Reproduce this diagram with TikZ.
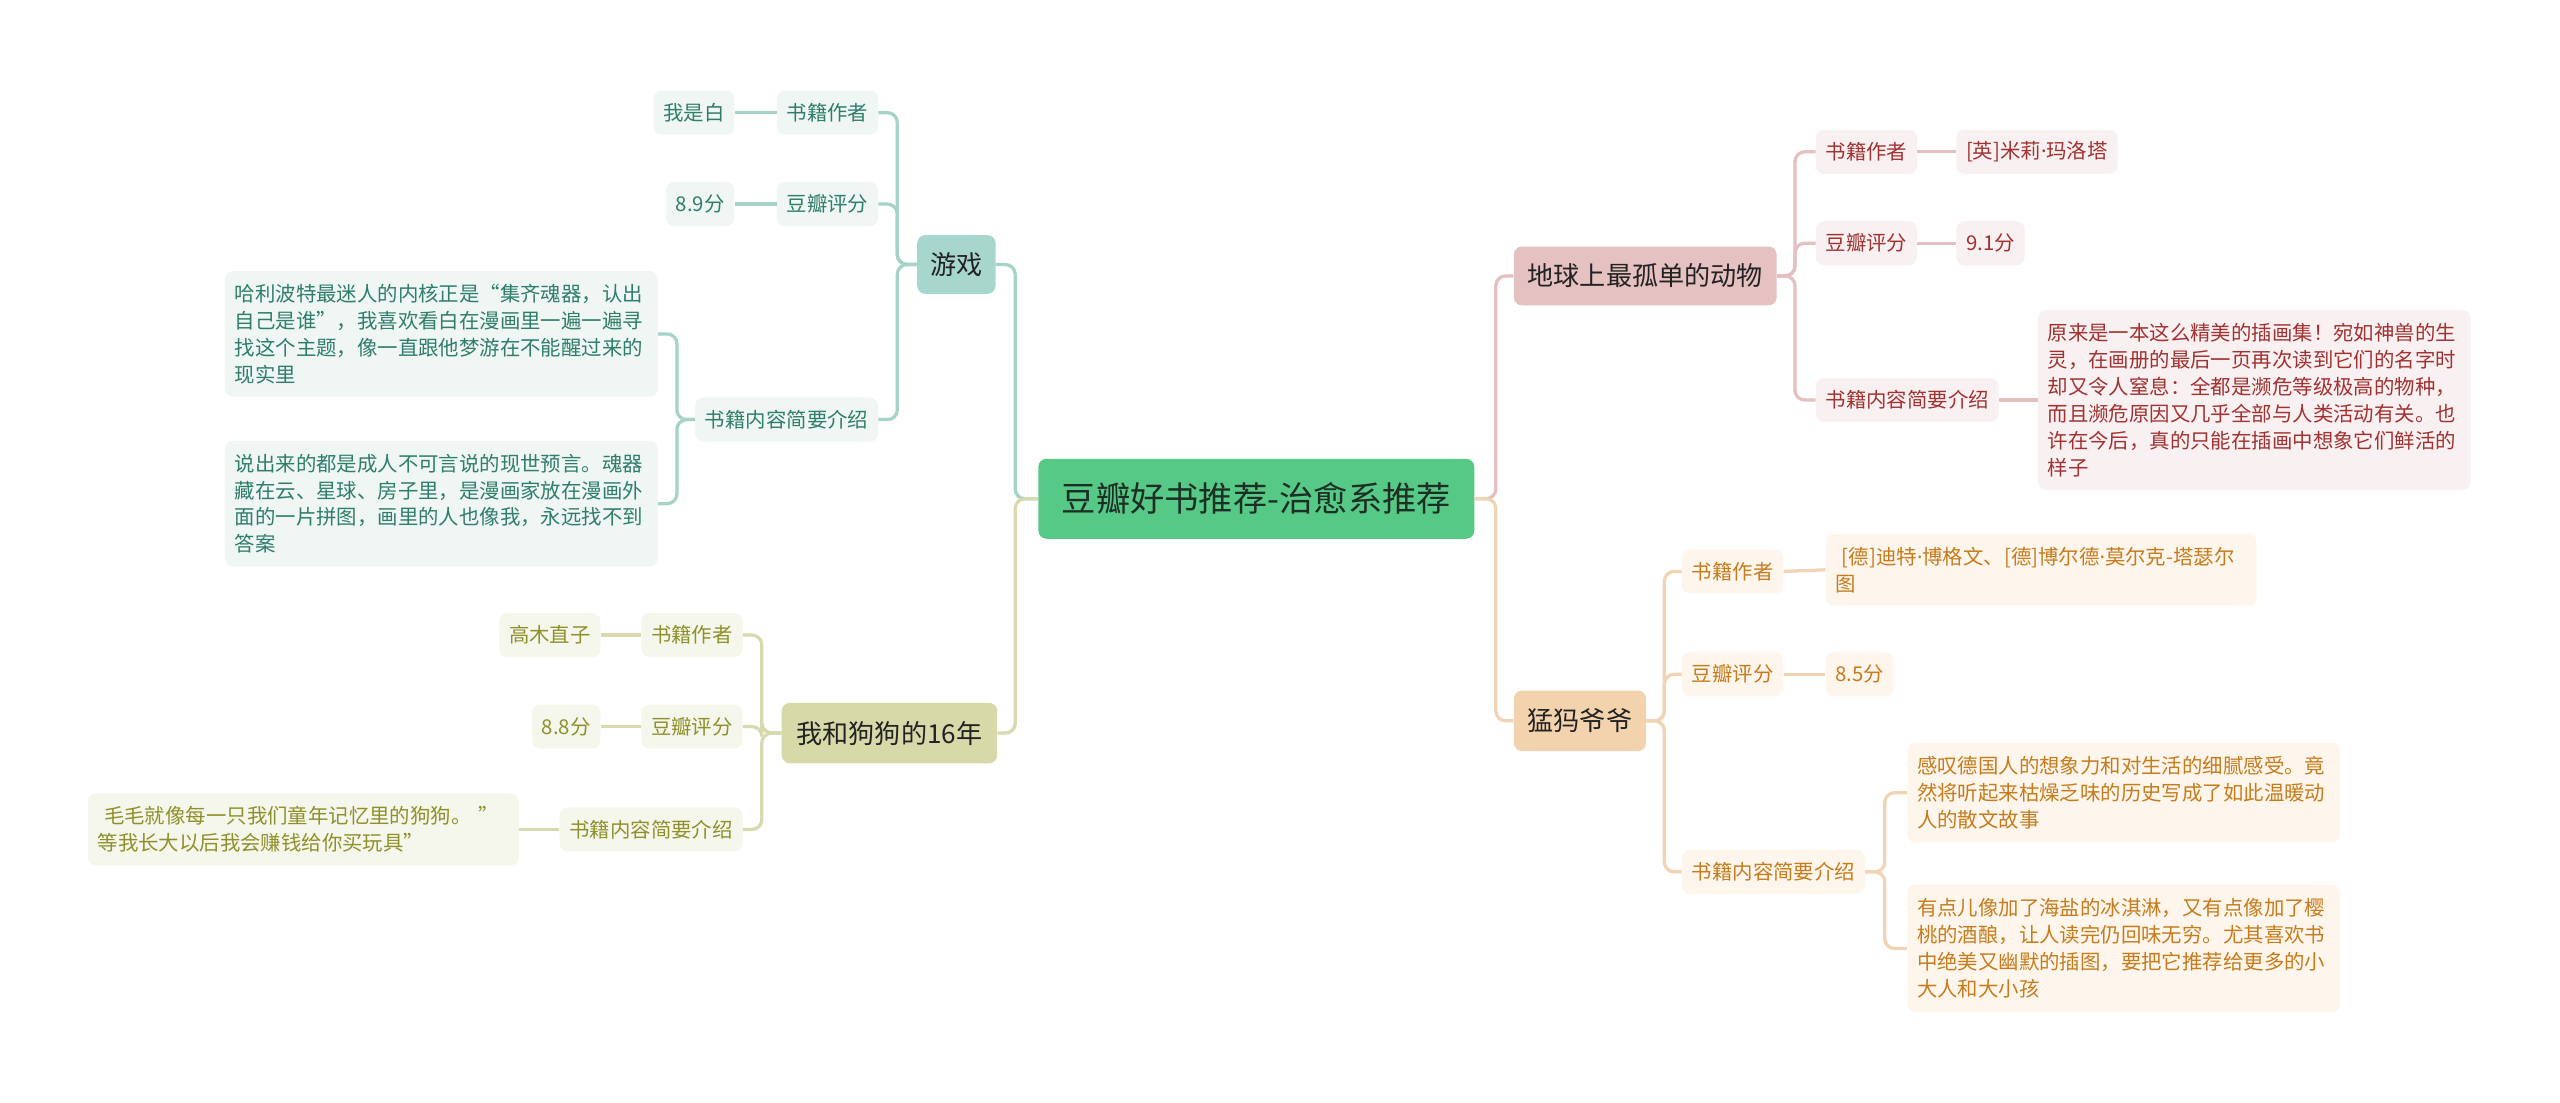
\documentclass[tikz,border=0pt]{standalone}
\usepackage{fontspec}
\setmainfont{Noto Sans CJK SC}
\newfontfamily\latinf{Noto Sans}
\newcommand{\mdot}{{\latinf ·}}
\definecolor{rootc}{HTML}{56C986}
\definecolor{roottx}{HTML}{1D2E24}
\definecolor{lvtx}{HTML}{222222}
% teal
\definecolor{tA}{HTML}{A7D6CC}
\definecolor{tL}{HTML}{EFF6F4}
\definecolor{tT}{HTML}{2F7E6C}
\definecolor{tC}{HTML}{A6D3C8}
% olive
\definecolor{oA}{HTML}{D7D9A9}
\definecolor{oL}{HTML}{F6F7EC}
\definecolor{oT}{HTML}{8E912B}
\definecolor{oC}{HTML}{D8DAAE}
% pink
\definecolor{pA}{HTML}{E6C1C1}
\definecolor{pL}{HTML}{F9F1F1}
\definecolor{pT}{HTML}{A23131}
\definecolor{pC}{HTML}{E4C0C0}
% orange
\definecolor{yA}{HTML}{F2D3AE}
\definecolor{yL}{HTML}{FEF6EC}
\definecolor{yT}{HTML}{C67C1C}
\definecolor{yC}{HTML}{F1D4B4}
\tikzset{
  rootnode/.style={rounded corners=5pt, fill=rootc, text=roottx, minimum width=267pt, minimum height=49pt, font=\fontsize{21}{25}\selectfont},
  lvone/.style={rounded corners=5pt, minimum height=37pt, inner xsep=8pt, text=lvtx, font=\fontsize{16}{19}\selectfont},
  leaf/.style={rounded corners=5pt, minimum height=27pt, inner xsep=6pt, font=\fontsize{12.5}{16}\selectfont},
  tbox/.style={rounded corners=5pt, inner xsep=6pt, inner ysep=4pt, align=left, font=\fontsize{12.5}{16.5}\selectfont},
  conn/.style={line width=2pt, rounded corners=6pt},
}
\begin{document}
\begin{tikzpicture}[x=1pt,y=-1pt]
\path[fill=white] (0,0) rectangle (1568,675);
\useasboundingbox (0,0) rectangle (1568,675);

% root
\node[rootnode] (root) at (769.5,305.5) {豆瓣好书推荐-治愈系推荐};

% ===== 游戏 (teal) =====
\node[lvone, fill=tA, minimum width=47pt, minimum height=36pt, anchor=east] (g) at (610,162) {游戏};
\node[leaf, fill=tL, text=tT, anchor=east] (gauth) at (538,69) {书籍作者};
\node[leaf, fill=tL, text=tT, anchor=east] (gauthv) at (450,69) {我是白};
\node[leaf, fill=tL, text=tT, anchor=east] (grate) at (538,125) {豆瓣评分};
\node[leaf, fill=tL, text=tT, anchor=east] (gratev) at (450,125) {8.9分};
\node[leaf, fill=tL, text=tT, anchor=east] (gdesc) at (538,257) {书籍内容简要介绍};
\node[tbox, fill=tL, text=tT, text width=253pt, minimum height=77pt, anchor=east] (gt1) at (403,204.5)
 {哈利波特最迷人的内核正是“集齐魂器，认出\\自己是谁”，我喜欢看白在漫画里一遍一遍寻\\找这个主题，像一直跟他梦游在不能醒过来的\\现实里};
\node[tbox, fill=tL, text=tT, text width=253pt, minimum height=77pt, anchor=east] (gt2) at (403,308.5)
 {说出来的都是成人不可言说的现世预言。魂器\\藏在云、星球、房子里，是漫画家放在漫画外\\面的一片拼图，画里的人也像我，永远找不到\\答案};

\draw[conn, tC] (root.west) -- ++(-14,0) |- (g.east);
\draw[conn, tC] (g.west) -- ++(-12,0) |- (gauth.east);
\draw[conn, tC] (g.west) -- ++(-12,0) |- (grate.east);
\draw[conn, tC] (g.west) -- ++(-12,0) |- (gdesc.east);
\draw[conn, tC] (gauth.west) -- (gauthv.east);
\draw[conn, tC] (grate.west) -- (gratev.east);
\draw[conn, tC] (gdesc.west) -- ++(-11,0) |- (gt1.east);
\draw[conn, tC] (gdesc.west) -- ++(-11,0) |- (gt2.east);

% ===== 我和狗狗的16年 (olive) =====
\node[lvone, fill=oA, minimum width=132pt, anchor=east] (d) at (611,449) {我和狗狗的16年};
\node[leaf, fill=oL, text=oT, anchor=east] (dauth) at (455,389) {书籍作者};
\node[leaf, fill=oL, text=oT, anchor=east] (dauthv) at (368,389) {高木直子};
\node[leaf, fill=oL, text=oT, anchor=east] (drate) at (455,445) {豆瓣评分};
\node[leaf, fill=oL, text=oT, anchor=east] (dratev) at (368,445) {8.8分};
\node[leaf, fill=oL, text=oT, anchor=east] (ddesc) at (455,508) {书籍内容简要介绍};
\node[tbox, fill=oL, text=oT, text width=252pt, minimum height=44pt, anchor=east] (dt) at (318,508)
 {\hspace{4pt}毛毛就像每一只我们童年记忆里的狗狗。 ”\\等我长大以后我会赚钱给你买玩具”};

\draw[conn, oC] (root.west) -- ++(-14,0) |- (d.east);
\draw[conn, oC] (d.west) -- ++(-12,0) |- (dauth.east);
\draw[conn, oC] (d.west) -- ++(-12,0) |- (drate.east);
\draw[conn, oC] (d.west) -- ++(-12,0) |- (ddesc.east);
\draw[conn, oC] (dauth.west) -- (dauthv.east);
\draw[conn, oC] (drate.west) -- (dratev.east);
\draw[conn, oC] (ddesc.west) -- (dt.east);

% ===== 地球上最孤单的动物 (pink) =====
\node[lvone, fill=pA, minimum width=161pt, minimum height=36pt, anchor=west] (e) at (927,169) {地球上最孤单的动物};
\node[leaf, fill=pL, text=pT, anchor=west] (eauth) at (1112,93) {书籍作者};
\node[leaf, fill=pL, text=pT, anchor=west] (eauthv) at (1198,93) {[英]米莉\mdot 玛洛塔};
\node[leaf, fill=pL, text=pT, anchor=west] (erate) at (1112,149) {豆瓣评分};
\node[leaf, fill=pL, text=pT, anchor=west] (eratev) at (1198,149) {9.1分};
\node[leaf, fill=pL, text=pT, anchor=west] (edesc) at (1112,245) {书籍内容简要介绍};
\node[tbox, fill=pL, text=pT, text width=253pt, minimum height=110pt, anchor=west] (et) at (1248,245)
 {原来是一本这么精美的插画集！宛如神兽的生\\灵，在画册的最后一页再次读到它们的名字时\\却又令人窒息：全都是濒危等级极高的物种，\\而且濒危原因又几乎全部与人类活动有关。也\\许在今后，真的只能在插画中想象它们鲜活的\\样子};

\draw[conn, pC] (root.east) -- ++(13,0) |- (e.west);
\draw[conn, pC] (e.east) -- ++(11,0) |- (eauth.west);
\draw[conn, pC] (e.east) -- ++(11,0) |- (erate.west);
\draw[conn, pC] (e.east) -- ++(11,0) |- (edesc.west);
\draw[conn, pC] (eauth.east) -- (eauthv.west);
\draw[conn, pC] (erate.east) -- (eratev.west);
\draw[conn, pC] (edesc.east) -- (et.west);

% ===== 猛犸爷爷 (orange) =====
\node[lvone, fill=yA, minimum width=81pt, anchor=west] (m) at (927,441.5) {猛犸爷爷};
\node[leaf, fill=yL, text=yT, anchor=west] (mauth) at (1030,350) {书籍作者};
\node[tbox, fill=yL, text=yT, text width=252pt, minimum height=44pt, anchor=west] (mauthv) at (1118,349)
 {\mbox{\hspace{4pt}[德]迪特\mdot 博格文、[德]博尔德\mdot 莫尔克-塔瑟尔}\\图};
\node[leaf, fill=yL, text=yT, anchor=west] (mrate) at (1030,413) {豆瓣评分};
\node[leaf, fill=yL, text=yT, anchor=west] (mratev) at (1118,413) {8.5分};
\node[leaf, fill=yL, text=yT, anchor=west] (mdesc) at (1030,534) {书籍内容简要介绍};
\node[tbox, fill=yL, text=yT, text width=253pt, minimum height=61pt, anchor=west] (mt1) at (1168,485.5)
 {感叹德国人的想象力和对生活的细腻感受。竟\\然将听起来枯燥乏味的历史写成了如此温暖动\\人的散文故事};
\node[tbox, fill=yL, text=yT, text width=253pt, minimum height=78pt, anchor=west] (mt2) at (1168,581)
 {有点儿像加了海盐的冰淇淋，又有点像加了樱\\桃的酒酿，让人读完仍回味无穷。尤其喜欢书\\中绝美又幽默的插图，要把它推荐给更多的小\\大人和大小孩};

\draw[conn, yC] (root.east) -- ++(13,0) |- (m.west);
\draw[conn, yC] (m.east) -- ++(11,0) |- (mauth.west);
\draw[conn, yC] (m.east) -- ++(11,0) |- (mrate.west);
\draw[conn, yC] (m.east) -- ++(11,0) |- (mdesc.west);
\draw[conn, yC] (mauth.east) -- (mauthv.west);
\draw[conn, yC] (mrate.east) -- (mratev.west);
\draw[conn, yC] (mdesc.east) -- ++(12,0) |- (mt1.west);
\draw[conn, yC] (mdesc.east) -- ++(12,0) |- (mt2.west);
\end{tikzpicture}
\end{document}
